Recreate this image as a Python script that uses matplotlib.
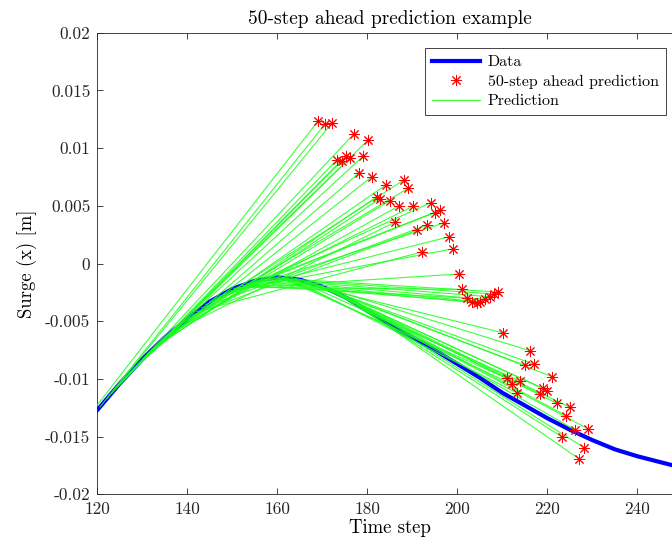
import numpy as np
import matplotlib
matplotlib.use("Agg")
import matplotlib.pyplot as plt

# measured surge (data curve), every 5 time steps
steps = [120, 125, 130, 135, 140, 145, 150, 155, 160, 165, 170, 175, 180, 185,
         190, 195, 200, 205, 210, 215, 220, 225, 230, 235, 240, 245, 250]
surge = [-0.0127, -0.0104, -0.0083, -0.0064, -0.0048, -0.0033, -0.0022, -0.0015,
         -0.0012, -0.0014, -0.0020, -0.0029, -0.0041, -0.0053, -0.0064, -0.0075,
         -0.0087, -0.0099, -0.0112, -0.0123, -0.0134, -0.0144, -0.0153, -0.0161,
         -0.0167, -0.0172, -0.0177]

horizon = 50

# 50-step ahead predictions (time step, value)
pred_step = [169.1, 170.6, 172.2, 177.0, 180.2, 173.2, 174.3, 175.2, 176.2, 179.1,
             178.2, 181.0, 184.2, 188.1, 189.1, 182.1, 182.8, 185.0, 187.0, 190.2,
             194.1, 196.2, 195.0, 197.1, 193.2, 191.1, 186.2, 198.2, 199.1, 192.1,
             200.3, 201.0, 202.1, 203.2, 204.3, 205.0, 206.2, 207.3, 208.2, 209.1,
             210.1, 216.2, 215.0, 217.1, 221.1, 211.0, 212.1, 213.9, 213.2, 218.4,
             219.1, 220.0, 222.1, 225.0, 224.2, 226.2, 229.1, 223.2, 228.2, 227.1]
pred_val = [0.01237, 0.01209, 0.0122, 0.01122, 0.0107, 0.00897, 0.00888, 0.00931,
            0.00914, 0.00931, 0.00787, 0.00752, 0.00683, 0.00723, 0.00652, 0.00579,
            0.00561, 0.00544, 0.00498, 0.00498, 0.00527, 0.00463, 0.0044, 0.00353,
            0.00331, 0.0029, 0.00359, 0.00232, 0.00128, 0.001, -0.00091, -0.00224,
            -0.0030, -0.00331, -0.0034, -0.00331, -0.00311, -0.00288, -0.00264,
            -0.00247, -0.0060, -0.00756, -0.00882, -0.00874, -0.00981, -0.00995,
            -0.01044, -0.01018, -0.0112, -0.0113, -0.01082, -0.01102, -0.01212,
            -0.01246, -0.01319, -0.01443, -0.01434, -0.01501, -0.01596, -0.01694]

xticks = [120, 140, 160, 180, 200, 220, 240]
yticks = [-0.02, -0.015, -0.01, -0.005, 0, 0.005, 0.01, 0.015, 0.02]
ytick_labels = ["-0.02", "-0.015", "-0.01", "-0.005", "0", "0.005", "0.01", "0.015", "0.02"]

plt.rcParams["font.family"] = "serif"
plt.rcParams["font.serif"] = ["cmr10", "DejaVu Serif"]
plt.rcParams["mathtext.fontset"] = "cm"
plt.rcParams["axes.unicode_minus"] = False

dark = "#262626"
fig = plt.figure(figsize=(6.72, 5.49), dpi=100)
ax = fig.add_axes([0.1448, 0.0996, 0.8705, 0.8408])

ax.plot(steps, surge, color=(0, 0, 1), lw=3, label="Data", zorder=2)

for i in range(len(pred_step)):
    t1 = pred_step[i]
    t0 = t1 - horizon
    y0 = np.interp(t0, steps, surge)
    ax.plot([t0, t1], [y0, pred_val[i]], color=(0.1, 1, 0.1), lw=0.8, alpha=0.85,
            zorder=3, label="Prediction" if i == 0 else None)

ax.plot(pred_step, pred_val, ls="none", marker=(8, 2, 0), ms=8, mew=0.7,
        color="red", label="50-step ahead prediction", zorder=4)

ax.set_xlim(120, 250)
ax.set_ylim(-0.02, 0.02)
ax.set_xticks(xticks)
ax.set_xticklabels([str(t) for t in xticks])
ax.set_yticks(yticks)
ax.set_yticklabels(ytick_labels)
ax.tick_params(direction="in", top=True, right=True, length=4, width=0.6,
               colors=dark, labelsize=12.5, pad=5)
for s in ax.spines.values():
    s.set_color(dark)
    s.set_linewidth(0.6)

ax.set_title("50-step ahead prediction example", fontsize=14, color="black", pad=6)
ax.set_xlabel("Time step", fontsize=13.5, labelpad=2)
ax.set_ylabel("Surge (x) [m]", fontsize=13.5, labelpad=6)

h, l = ax.get_legend_handles_labels()
order = [l.index("Data"), l.index("50-step ahead prediction"), l.index("Prediction")]
leg = ax.legend([h[k] for k in order], [l[k] for k in order],
                loc="upper right", bbox_to_anchor=(666 / 672, 1 - 48 / 549),
                bbox_transform=fig.transFigure, borderaxespad=0, fontsize=11.5,
                fancybox=False, framealpha=1, edgecolor=dark, handlelength=3.0,
                borderpad=0.45, labelspacing=0.33, handletextpad=0.5)
leg.get_frame().set_linewidth(0.6)

fig.savefig("out.png", dpi=100)
